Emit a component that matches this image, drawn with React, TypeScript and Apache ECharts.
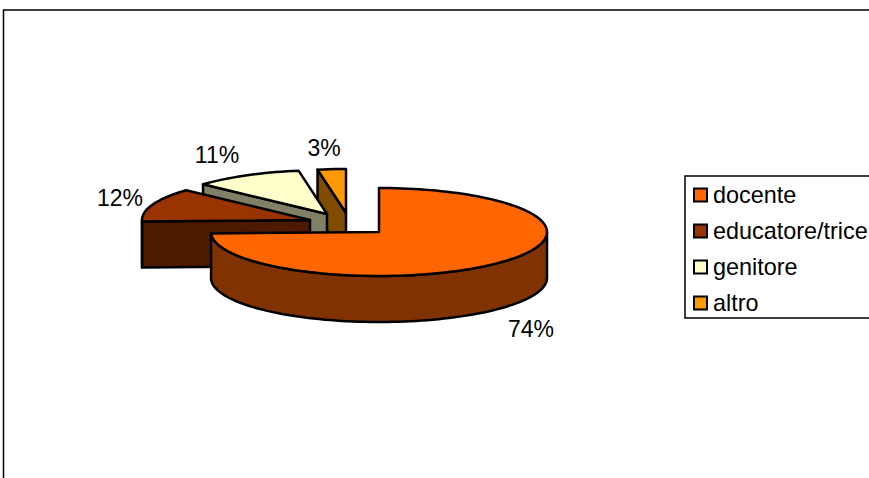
import React, { useEffect, useRef } from "react";
import * as echarts from "echarts";

// data
const categories = ["docente", "educatore/trice", "genitore", "altro"];
const shares = [74.49, 12.3, 10.5, 2.71];
const percentLabels = ["74%", "12%", "11%", "3%"];

// styling and layout of the 3D pie
const colors = ["#FF6600", "#993300", "#FFFFCC", "#FF9900"];
const wallColors = ["#803300", "#4D1A00", "#808066", "#804D00"];
const explodeX = [0, -69, -52, -33];
const explodeY = [0, -12, -18, -19];
const labelX = [531, 120, 217, 324];
const labelY = [329, 198, 155, 148];
const CX = 379;
const CY = 232;
const RX = 168;
const RY = 44;
const DEPTH = 46;
const FONT = '"Liberation Sans", Arial, sans-serif';

const total = shares.reduce((a, b) => a + b, 0);

function pt(cx: number, cy: number, deg: number): number[] {
  const r = (deg * Math.PI) / 180;
  return [cx + RX * Math.sin(r), cy - RY * Math.cos(r)];
}

function arc(cx: number, cy: number, a: number, b: number): number[][] {
  const out: number[][] = [];
  const n = Math.max(2, Math.ceil(Math.abs(b - a) / 2));
  for (let i = 0; i <= n; i++) out.push(pt(cx, cy, a + ((b - a) * i) / n));
  return out;
}

function sliceItem(index: number, value: number) {
  const before = shares.slice(0, index).reduce((a, b) => a + b, 0);
  const start = (before / total) * 360;
  const end = start + (value / total) * 360;
  const cx = CX + explodeX[index];
  const cy = CY + explodeY[index];
  const line = { stroke: "#000", lineWidth: 2.5, lineJoin: "round" };
  const children: any[] = [];
  const wall = wallColors[index];

  // radial wall at the start of the slice, when it faces the viewer
  if (start > 180) {
    const p = pt(cx, cy, start);
    children.push({
      type: "polygon",
      shape: { points: [[cx, cy], p, [p[0], p[1] + DEPTH], [cx, cy + DEPTH]] },
      style: { fill: wall, ...line },
    });
  }
  // outer wall: the part of the rim in the front half
  const a = Math.max(start, 90);
  const b = Math.min(end, 270);
  if (b > a) {
    const top = arc(cx, cy, a, b);
    const bottom = top.map((p) => [p[0], p[1] + DEPTH]).reverse();
    children.push({
      type: "polygon",
      shape: { points: [...top, ...bottom] },
      style: { fill: wall, ...line },
    });
  }
  // top face
  children.push({
    type: "polygon",
    shape: { points: [[cx, cy], ...arc(cx, cy, start, end)] },
    style: { fill: colors[index], ...line },
  });
  // percentage label
  children.push({
    type: "text",
    style: {
      text: percentLabels[index],
      x: labelX[index],
      y: labelY[index],
      fill: "#000",
      fontSize: 23,
      fontFamily: FONT,
      align: "center",
      verticalAlign: "middle",
    },
  });
  return { type: "group", children };
}

export default function App() {
  const ref = useRef<HTMLDivElement>(null);
  useEffect(() => {
    const chart = echarts.init(ref.current!, undefined, { renderer: "svg" });
    const order = categories.map((_, i) => i).reverse();
    chart.setOption({
      animation: false,
      backgroundColor: "#fff",
      graphic: [
        {
          type: "rect",
          silent: true,
          z: -1,
          shape: { x: 3.5, y: 10, width: 900, height: 600 },
          style: { fill: "#fff", stroke: "#000", lineWidth: 1.5 },
        },
      ],
      legend: {
        orient: "vertical",
        left: 685,
        top: 176,
        data: categories,
        icon: "rect",
        itemWidth: 13,
        itemHeight: 13,
        itemGap: 12,
        padding: [7, 12, 3, 8],
        backgroundColor: "#fff",
        borderColor: "#000",
        borderWidth: 1.5,
        borderRadius: 0,
        selectedMode: false,
        itemStyle: { borderColor: "#000", borderWidth: 2 },
        textStyle: {
          color: "#000",
          fontSize: 23.4,
          fontFamily: FONT,
          padding: [0, 0, 0, 1],
          lineHeight: 24,
        },
      },
      series: order.map((i) => ({
        type: "custom",
        name: categories[i],
        coordinateSystem: "none",
        color: colors[i],
        itemStyle: { color: colors[i] },
        data: [[shares[i]]],
        renderItem: (_p: any, api: any) => sliceItem(i, api.value(0)),
      })),
    });
    return () => chart.dispose();
  }, []);
  return (
    <div
      ref={ref}
      style={{ position: "absolute", left: 0, top: 0, width: 869, height: 478 }}
    />
  );
}
